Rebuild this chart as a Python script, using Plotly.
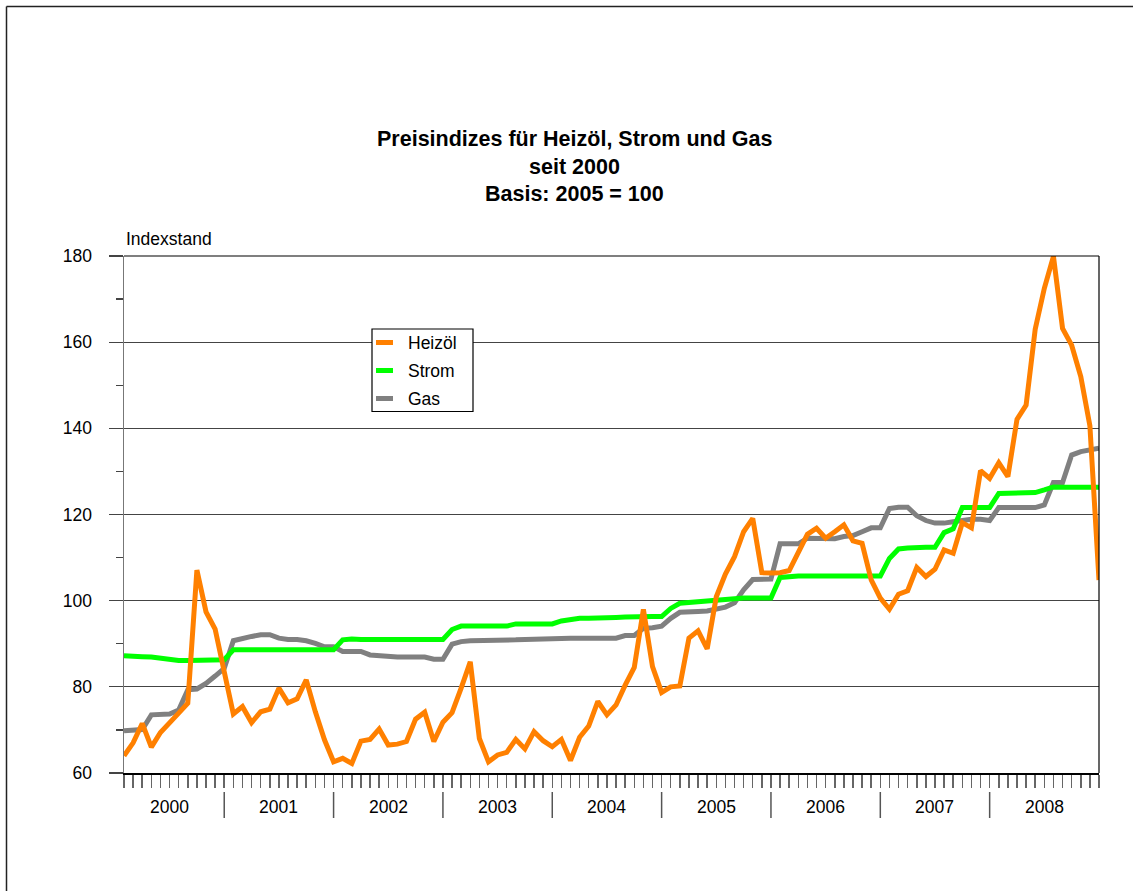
import plotly.graph_objects as go

# ---------------- data ----------------
years = [2000, 2001, 2002, 2003, 2004, 2005, 2006, 2007, 2008]
months = [f"{y}-{m:02d}" for y in years for m in range(1, 13)]

heizoel = [
    64.0, 67.0, 71.5, 66.0, 69.4, 71.5, 73.9, 76.2, 107.1, 97.4, 93.4, 83.5,
    73.7, 75.4, 71.7, 74.2, 74.8, 79.7, 76.3, 77.2, 81.6, 74.2, 67.7, 62.6,
    63.4, 62.2, 67.4, 67.8, 70.2, 66.5, 66.7, 67.3, 72.5, 74.1, 67.3, 71.8,
    74.0, 79.7, 85.8, 68.0, 62.6, 64.2, 64.8, 67.8, 65.6, 69.6, 67.5, 66.1,
    67.8, 62.9, 68.3, 70.9, 76.6, 73.5, 75.8, 80.4, 84.5, 98.0, 84.7, 78.7,
    80.0, 80.2, 91.3, 93.0, 88.8, 100.9, 106.2, 110.2, 116.0, 119.1, 106.5, 106.4,
    106.5, 107.0, 111.1, 115.4, 116.8, 114.5, 116.0, 117.6, 113.9, 113.3, 104.8, 100.6,
    98.0, 101.5, 102.3, 107.7, 105.6, 107.3, 111.8, 111.0, 118.1, 116.9, 130.2, 128.4,
    132.0, 128.8, 142.1, 145.4, 163.0, 172.5, 179.9, 163.2, 159.3, 152.0, 140.6, 104.8,
]

strom = [
    87.2, 87.0, 87.0, 86.9, 86.6, 86.2, 86.1, 86.1, 86.1, 86.1, 86.2, 86.3,
    88.6, 88.6, 88.6, 88.6, 88.6, 88.6, 88.6, 88.6, 88.6, 88.6, 88.6, 88.6,
    90.9, 91.1, 91.0, 91.0, 91.0, 91.0, 91.0, 91.0, 91.0, 91.0, 91.0, 91.0,
    93.3, 94.1, 94.1, 94.1, 94.1, 94.1, 94.1, 94.6, 94.6, 94.6, 94.6, 94.6,
    95.3, 95.6, 95.9, 95.9, 95.9, 96.1, 96.1, 96.2, 96.3, 96.3, 96.3, 96.3,
    98.2, 99.4, 99.6, 99.7, 100.0, 100.2, 100.4, 100.5, 100.6, 100.6, 100.6, 100.6,
    105.4, 105.6, 105.7, 105.7, 105.7, 105.7, 105.7, 105.7, 105.7, 105.7, 105.7, 105.7,
    109.8, 112.0, 112.2, 112.4, 112.4, 112.4, 115.8, 116.7, 121.6, 121.6, 121.6, 121.6,
    124.9, 124.9, 124.9, 124.9, 125.1, 125.7, 126.4, 126.3, 126.3, 126.3, 126.3, 126.3,
]

gas = [
    69.8, 70.0, 70.1, 73.5, 73.7, 73.7, 74.6, 79.3, 79.5, 80.8, 82.5, 84.3,
    90.7, 91.3, 91.7, 92.1, 92.1, 91.3, 91.0, 91.0, 90.7, 90.1, 89.3, 89.3,
    88.2, 88.2, 88.2, 87.4, 87.2, 86.9, 86.9, 86.9, 86.9, 86.9, 86.4, 86.4,
    89.9, 90.5, 90.7, 90.7, 90.7, 90.7, 90.8, 90.9, 91.0, 91.1, 91.1, 91.1,
    91.2, 91.3, 91.3, 91.3, 91.3, 91.3, 91.3, 91.9, 91.9, 93.6, 93.7, 94.1,
    95.9, 97.3, 97.5, 97.5, 97.6, 98.1, 98.5, 99.5, 102.5, 104.9, 105.0, 105.0,
    113.2, 113.2, 113.2, 114.5, 114.4, 114.3, 114.4, 114.9, 115.1, 116.0, 116.9, 116.9,
    121.4, 121.7, 121.7, 119.7, 118.6, 118.0, 118.0, 118.3, 118.6, 118.9, 118.9, 118.6,
    121.6, 121.6, 121.6, 121.6, 121.6, 122.2, 127.4, 127.4, 133.8, 134.6, 135.0, 135.4,
]

series_names = ["Heizöl", "Strom", "Gas"]
series_colors = ["#FF8000", "#00FF00", "#808080"]
year_labels = [str(y) for y in years]
y_ticks = [60, 80, 100, 120, 140, 160, 180]

title_lines = ["Preisindizes für Heizöl, Strom und Gas", "seit 2000", "Basis: 2005 = 100"]

# ---------------- figure ----------------
W, H = 1133, 891
L, R, T, B = 124, 34, 256, 118
PW, PH = W - L - R, H - T - B


def px2paper_x(px):
    return (px - L) / PW


def px2paper_y(py):
    return (H - B - py) / PH


FONT = "Liberation Sans, Arial, sans-serif"

fig = go.Figure()
values = {"Heizöl": heizoel, "Strom": strom, "Gas": gas}
# draw Gas first, Heizöl last (on top)
for name, color in reversed(list(zip(series_names, series_colors))):
    fig.add_trace(go.Scatter(
        x=months, y=values[name], mode="lines", name=name,
        line=dict(color=color, width=5),
        showlegend=False,
    ))

shapes = []
annotations = []

# outer frame (left and top lines)
shapes.append(dict(type="line", xref="paper", yref="paper",
                   x0=px2paper_x(6.5), x1=px2paper_x(6.5), y0=px2paper_y(6.5), y1=px2paper_y(H + 5),
                   line=dict(color="#222222", width=1.5)))
shapes.append(dict(type="line", xref="paper", yref="paper",
                   x0=px2paper_x(6.5), x1=px2paper_x(W + 5), y0=px2paper_y(6.5), y1=px2paper_y(6.5),
                   line=dict(color="#222222", width=1.5)))

# plot area top and right border
shapes.append(dict(type="line", xref="paper", yref="paper", x0=0, x1=1, y0=1, y1=1,
                   line=dict(color="#000000", width=1.2)))
shapes.append(dict(type="line", xref="paper", yref="paper", x0=1, x1=1, y0=0, y1=1,
                   line=dict(color="#000000", width=1.2)))

# year separators (at December of each year except last)
for yr in years[:-1]:
    shapes.append(dict(type="line", xref="x", yref="paper",
                       x0=f"{yr}-12", x1=f"{yr}-12",
                       y0=px2paper_y(792), y1=px2paper_y(818),
                       line=dict(color="#555555", width=1.5)))

# year labels (centred in each year span)
for yr, lab in zip(years, year_labels):
    annotations.append(dict(x=f"{yr}-06", xref="x", y=px2paper_y(806.5), yref="paper",
                            text=lab, showarrow=False, xanchor="center", yanchor="middle",
                            font=dict(family=FONT, size=17.5, color="#000000")))

# title lines
for txt, py in zip(title_lines, [138.5, 166.5, 194.0]):
    annotations.append(dict(x=px2paper_x(574), y=px2paper_y(py), xref="paper", yref="paper",
                            text=f"<b>{txt}</b>", showarrow=False, xanchor="center", yanchor="middle",
                            font=dict(family=FONT, size=21.5, color="#000000")))

# y axis caption
annotations.append(dict(x=0, y=px2paper_y(239), xref="paper", yref="paper",
                        text="Indexstand", showarrow=False, xanchor="left", yanchor="middle",
                        font=dict(family=FONT, size=17.5, color="#000000")))

# custom legend
shapes.append(dict(type="rect", xref="paper", yref="paper",
                   x0=px2paper_x(372), x1=px2paper_x(473), y0=px2paper_y(329), y1=px2paper_y(411.5),
                   line=dict(color="#000000", width=1.2), fillcolor="#FFFFFF", layer="above"))
for i, (name, color) in enumerate(zip(series_names, series_colors)):
    py = 342.5 + i * 28
    shapes.append(dict(type="line", xref="paper", yref="paper",
                       x0=px2paper_x(376), x1=px2paper_x(393), y0=px2paper_y(py), y1=px2paper_y(py),
                       line=dict(color=color, width=5), layer="above"))
    annotations.append(dict(x=px2paper_x(406), y=px2paper_y(py), xref="paper", yref="paper",
                            text=name, showarrow=False, xanchor="left", yanchor="middle",
                            font=dict(family=FONT, size=17.5, color="#000000")))

fig.update_layout(
    width=W, height=H,
    margin=dict(l=L, r=R, t=T, b=B, autoexpand=False),
    paper_bgcolor="#FFFFFF", plot_bgcolor="#FFFFFF",
    showlegend=False,
    shapes=shapes, annotations=annotations,
    font=dict(family=FONT, size=17.5, color="#000000"),
)

fig.update_xaxes(
    type="category", categoryorder="array", categoryarray=months,
    range=[0, len(months) - 1],
    tickmode="array", tickvals=months, showticklabels=False,
    ticks="outside", ticklen=13, tickwidth=1.5, tickcolor="#666666",
    showline=True, linecolor="#000000", linewidth=1.5,
    showgrid=False, zeroline=False, fixedrange=True,
)

fig.update_yaxes(
    range=[60, 180], tickmode="array", tickvals=y_ticks,
    ticks="outside", ticklen=14, tickwidth=1.2, tickcolor="#444444",
    minor=dict(dtick=10, tick0=60, ticks="outside", ticklen=7, tickwidth=1.2, tickcolor="#444444", showgrid=False),
    showline=True, linecolor="#777777", linewidth=1.5,
    showgrid=True, gridcolor="#444444", gridwidth=1,
    zeroline=False, ticklabelstandoff=13, fixedrange=True,
    tickfont=dict(family=FONT, size=17.5, color="#000000"),
)

fig.write_html(
    "out.html",
    config={"displayModeBar": False, "staticPlot": True},
    post_script="document.body.style.margin='0';document.body.style.overflow='hidden';",
)
